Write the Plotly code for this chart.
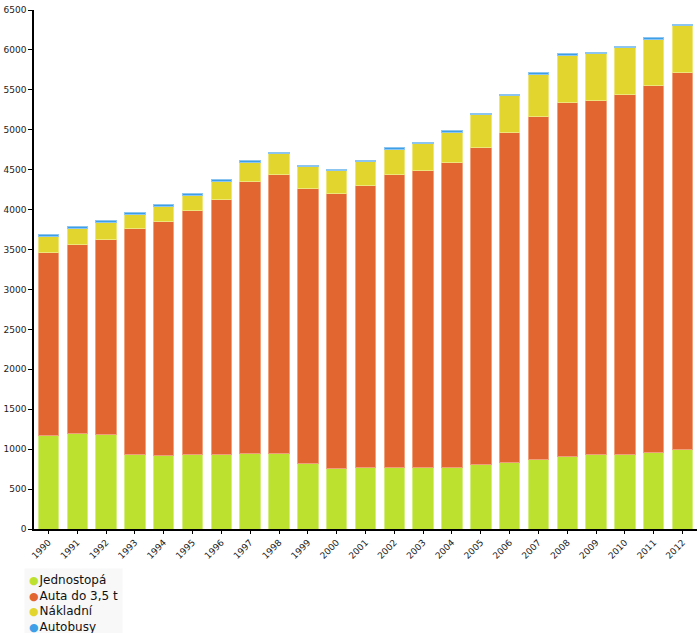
import plotly.graph_objects as go

years = [str(y) for y in range(1990, 2013)]

jednostopa = [1177, 1190, 1188, 927, 923, 931, 935, 948, 948, 818, 760, 772,
              772, 768, 772, 814, 835, 873, 910, 927, 939, 960, 993]
auta = [2288, 2371, 2444, 2839, 2934, 3052, 3194, 3398, 3498, 3444, 3448, 3536,
        3662, 3716, 3824, 3961, 4125, 4289, 4429, 4437, 4507, 4592, 4722]
nakladni = [196, 200, 204, 170, 184, 192, 225, 246, 251, 272, 276, 292,
            321, 338, 374, 414, 465, 536, 593, 589, 582, 581, 588]
autobusy = [27, 28, 28, 22, 24, 28, 24, 21, 22, 21, 21, 21,
            21, 22, 20, 21, 21, 22, 21, 21, 21, 22, 21]

series_names = ["Jednostopá", "Auta do 3,5 t", "Nákladní", "Autobusy"]
series_values = [jednostopa, auta, nakladni, autobusy]
colors = ["#bde12f", "#e2662f", "#e2d62e", "#3d9fe8"]
edge = ["#d4ee80", "#f0a07a", "#eee67a", "#8cc6f0"]

fig = go.Figure()
for name, vals, c, e in zip(series_names, series_values, colors, edge):
    fig.add_trace(go.Bar(
        x=years, y=vals, name=name,
        marker=dict(color=c, line=dict(color=e, width=1)),
        showlegend=False,
    ))

legend_lines = [
    f"<span style='color:{c};font-size:11px'>●</span><span style='font-size:3px'> </span>{n}"
    for n, c in zip(series_names, colors)
]
fig.add_annotation(
    xref="paper", yref="paper", x=-0.015, y=-0.075,
    xanchor="left", yanchor="top", align="left",
    text="<br>".join(legend_lines), showarrow=False,
    font=dict(family="DejaVu Sans", size=12, color="#111"),
    bgcolor="#f8f8f8", borderpad=4,
)

fig.update_layout(
    width=699, height=633,
    margin=dict(l=34, r=2, t=10, b=104),
    barmode="stack", bargap=0.29,
    plot_bgcolor="white", paper_bgcolor="white",
    font=dict(family="DejaVu Sans", color="#222"),
)
fig.update_xaxes(
    type="category", showline=True, linecolor="black", linewidth=1.5,
    ticks="outside", ticklen=3, tickcolor="black", tickangle=-45,
    tickfont=dict(size=9, family="DejaVu Sans", color="#222"),
    showgrid=False, zeroline=False,
)
fig.update_yaxes(
    range=[0, 6500], dtick=500, showline=True, linecolor="black", linewidth=1.5,
    ticks="outside", ticklen=4, tickcolor="black",
    tickfont=dict(size=9, family="DejaVu Sans", color="#222"),
    showgrid=False, zeroline=False, ticklabelstandoff=0,
)

fig.write_html("out.html", config={"displayModeBar": False})

with open("out.html", "r", encoding="utf-8") as f:
    html = f.read()
html = html.replace("<head>", "<head><style>html,body{margin:0;padding:0;overflow:hidden;}</style>", 1)
with open("out.html", "w", encoding="utf-8") as f:
    f.write(html)
